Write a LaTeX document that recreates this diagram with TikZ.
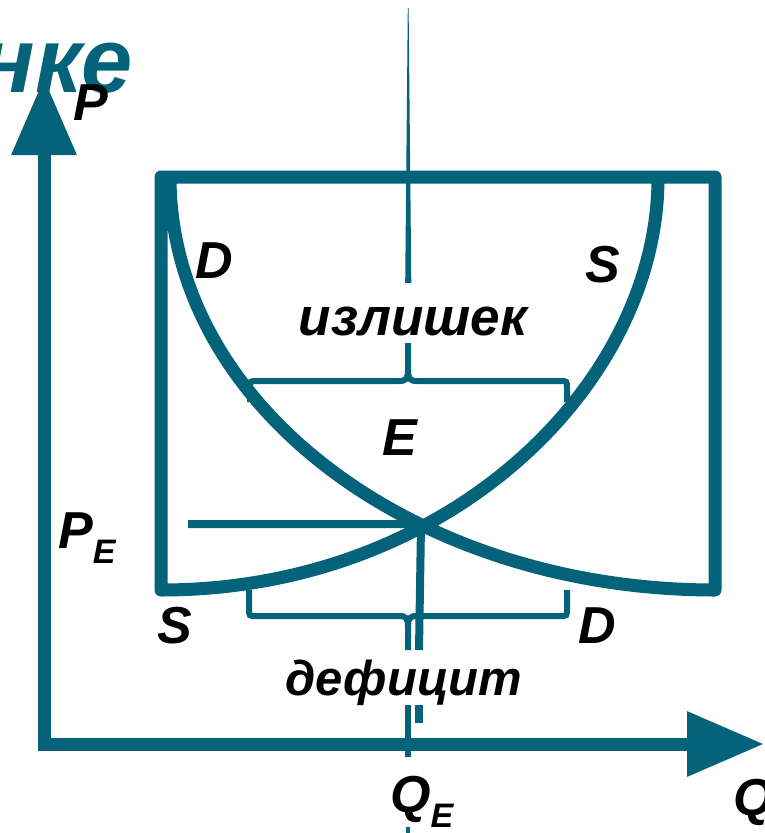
\documentclass[tikz,border=0pt]{standalone}
\usepackage{fontspec}
\setmainfont{Liberation Sans}
\usetikzlibrary{arrows.meta}
\definecolor{tealc}{RGB}{4,99,122}
\newcommand\lblfont{\fontsize{52}{52}\selectfont\bfseries\itshape}
\newcommand\wordfont{\fontsize{51}{51}\selectfont\bfseries\itshape}
\newcommand\subfont{\fontsize{34}{34}\selectfont\bfseries\itshape}
\newcommand\titlefont{\fontsize{92}{92}\selectfont\bfseries\itshape}
\begin{document}
\begin{tikzpicture}[x=1pt,y=-1pt,
  frame/.style={draw=tealc,line width=13pt,line join=round},
  axisline/.style={draw=tealc,line width=13pt,line join=miter},
  bracepath/.style={draw=tealc,line width=6pt},
  eline/.style={draw=tealc,line width=8pt},
  lbl/.style={font=\lblfont,inner sep=0pt,anchor=base},
  word/.style={font=\wordfont,inner sep=0pt,anchor=base}]
\useasboundingbox (0,0) rectangle (764,833);
\clip (0,0) rectangle (764,833);
% key points
\coordinate (O) at (44,744);
\coordinate (Ptip) at (44,78);
\coordinate (Qtip) at (764,744);
\coordinate (E) at (421,526);
\coordinate (Stop) at (658,178);
\coordinate (BL) at (161,590);
\coordinate (TL) at (161,177);
\coordinate (TR) at (715,177);
\coordinate (BR) at (715,590);
\coordinate (Dtop) at (170,177);
\coordinate (PEs) at (188,524);
\coordinate (PEe) at (402,524);
% axes
\draw[axisline,{Triangle[length=77pt,width=62pt]}-{Triangle[length=77pt,width=62pt]}] (Ptip) -- (O) -- (Qtip);
% thin vertical line at the top
\fill[tealc] (407.8,8) -- (408.6,8) -- (411.3,283) -- (405.2,283) -- cycle;
% frame with S and D curves
\draw[frame] (Stop) .. controls (658,384) and (449,590) .. (BL) -- (TL) -- (TR) -- (BR)
  .. controls (414,590) and (170,405) .. (Dtop);
% P_E line and E vertical
\draw[eline] (PEs) -- (PEe) -- (E);
\draw[eline] (E) -- (419,650);
\draw[eline] (419,705) -- (419,723);
\draw[draw=tealc,line width=6pt] (408,705) -- (408,757);
\draw[draw=tealc,line width=4pt] (408,827) -- (408,833);
% upper brace
\draw[bracepath] (250,402) -- (250,388) .. controls (250,381) .. (257,381) -- (399,381)
  .. controls (406,381) and (408,379) .. (408,370) -- (408,343);
\draw[bracepath] (567,402) -- (567,388) .. controls (567,381) .. (560,381) -- (417,381)
  .. controls (410,381) and (408,379) .. (408,370);
% lower brace
\draw[bracepath] (249,590) -- (249,609) .. controls (249,616) .. (256,616) -- (399,616)
  .. controls (406,616) and (408,618) .. (408,627) -- (408,650);
\draw[bracepath] (567,590) -- (567,609) .. controls (567,616) .. (560,616) -- (417,616)
  .. controls (410,616) and (408,618) .. (408,627);
% labels
\node[font=\titlefont,text=tealc,inner sep=0pt,anchor=base east] (title) at (133,92) {нке};
\node[lbl] (Plbl) at (91,120) {P};
\node[lbl] (Dtoplbl) at (214,278) {D};
\node[lbl] (Stoplbl) at (603,282) {S};
\node[word,font=\fontsize{53}{53}\selectfont\bfseries\itshape] (izl) at (413,335) {излишек};
\node[lbl] (Elbl) at (400,455) {E};
\node[lbl,anchor=base west] (PElbl) at (58,548) {P\raisebox{-0.3em}{\subfont E}};
\node[lbl] (Sbotlbl) at (175,643) {S};
\node[lbl] (Dbotlbl) at (597,643) {D};
\node[word,font=\fontsize{49}{49}\selectfont\bfseries\itshape] (def) at (404,695) {дефицит};
\node[lbl,anchor=base west] (QElbl) at (390,812) {Q\raisebox{-0.3em}{\subfont E}};
\node[lbl,anchor=base west] (Qlbl) at (733,815) {Q};
\end{tikzpicture}
\end{document}
